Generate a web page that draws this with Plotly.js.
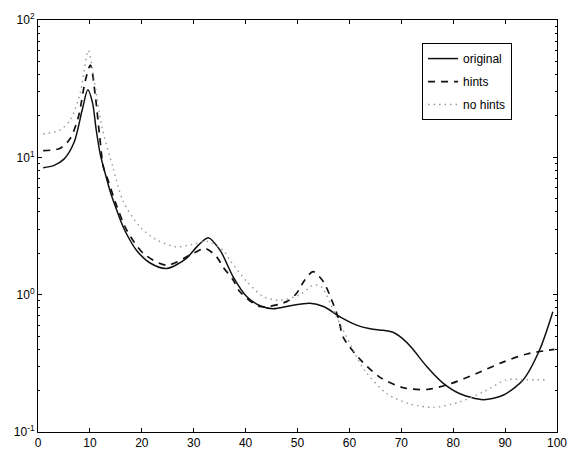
<!DOCTYPE html>
<html>
<head>
<meta charset="utf-8">
<script src="https://cdn.plot.ly/plotly-3.0.1.min.js"></script>
<style>html,body{margin:0;padding:0;background:#fff;}#chart{width:569px;height:452px;}</style>
</head>
<body>
<div id="chart"></div>
<script>
// Series: original
const origX = [1, 3, 5, 7, 8.5, 9.6, 10.5, 11.2, 12, 13, 14, 15, 16, 17, 19, 21.6, 24.8, 28.6, 30.6, 32.8, 35.1, 37.6, 40.2, 42.8, 45.3, 48.6, 52.4, 55, 58.2, 61.4, 64, 66.5, 68.5, 70.2, 72, 74.9, 78.1, 81.3, 85.8, 89.7, 93.5, 96.7, 99.2];
const origY = [8.4, 8.7, 9.7, 13, 22, 31, 25, 16, 10.5, 7.5, 5.5, 4.3, 3.4, 2.8, 2.1, 1.7, 1.55, 1.84, 2.23, 2.6, 2.1, 1.35, 0.97, 0.83, 0.79, 0.83, 0.865, 0.82, 0.69, 0.6, 0.565, 0.55, 0.53, 0.48, 0.41, 0.30, 0.226, 0.19, 0.172, 0.186, 0.24, 0.40, 0.75];

// Series: hints
const hintsX = [1, 4.2, 6.2, 7.8, 9.1, 10.1, 11, 11.9, 12.6, 13.5, 15, 17.1, 20.3, 24.8, 29.9, 32.2, 34.4, 35.7, 37.6, 38.9, 42.8, 47.9, 49.8, 51.4, 53, 55, 56.6, 57.9, 58.8, 62, 65.9, 70.4, 74.9, 79.4, 84.5, 89.7, 94.2, 99.5];
const hintsY = [11.2, 11.6, 13.7, 19.8, 36, 47, 29, 14, 8.5, 6.8, 4.6, 2.95, 2.0, 1.64, 2.0, 2.17, 1.89, 1.58, 1.28, 1.05, 0.82, 0.89, 1.02, 1.28, 1.47, 1.24, 0.91, 0.67, 0.49, 0.34, 0.25, 0.21, 0.204, 0.224, 0.267, 0.324, 0.37, 0.40];

// Series: no hints
const noHintsX = [1, 4.2, 6.2, 8.1, 9.7, 10.7, 12.3, 14.5, 16.4, 19.7, 22.9, 26.7, 29.9, 32.5, 35.7, 37, 40.2, 43.4, 46.6, 50.5, 53, 54.5, 57.5, 62, 63.3, 67.2, 71.7, 76.2, 81.3, 85.8, 90.3, 94.2, 98];
const noHintsY = [14.8, 15.8, 18.7, 29, 60, 39, 16.7, 8.3, 4.8, 3.1, 2.5, 2.23, 2.33, 2.45, 2.1, 1.78, 1.25, 0.97, 0.91, 1.0, 1.17, 1.15, 0.69, 0.32, 0.27, 0.19, 0.16, 0.151, 0.166, 0.196, 0.24, 0.24, 0.24];

const seriesNames = ['original', 'hints', 'no hints'];

// Tick labels
const xTicks = [0, 10, 20, 30, 40, 50, 60, 70, 80, 90, 100];
const yTickVals = [0.1, 1, 10, 100];
const yTickText = ['10<sup>-1</sup>', '10<sup>0</sup>', '10<sup>1</sup>', '10<sup>2</sup>'];

const traces = [
  {x: origX, y: origY, name: seriesNames[0], legendgroup: 'a', mode: 'lines', type: 'scatter',
   line: {color: '#111', width: 1.5, dash: 'solid', shape: 'spline', smoothing: 0.8}},
  {x: hintsX, y: hintsY, name: seriesNames[1], legendgroup: 'b', mode: 'lines', type: 'scatter',
   line: {color: '#111', width: 1.7, dash: '7px,6px', shape: 'spline', smoothing: 0.8}},
  {x: noHintsX, y: noHintsY, name: seriesNames[2], legendgroup: 'c', mode: 'lines', type: 'scatter',
   line: {color: '#999', width: 1.4, dash: '1.5px,4px', shape: 'spline', smoothing: 0.8}}
];

const axisFont = {family: 'Liberation Sans, Arial, sans-serif', size: 12, color: '#000'};

const layout = {
  width: 569, height: 452,
  margin: {l: 38, r: 12, t: 20, b: 20},
  paper_bgcolor: '#fff', plot_bgcolor: '#fff',
  showlegend: true,
  legend: {
    x: 0.74, y: 0.944, xanchor: 'left', yanchor: 'top',
    bordercolor: '#000', borderwidth: 1, bgcolor: '#fff',
    font: {family: 'Liberation Sans, Arial, sans-serif', size: 12, color: '#000'},
    traceorder: 'grouped', tracegroupgap: 4, itemwidth: 30
  },
  xaxis: {
    range: [0, 100], tickvals: xTicks, ticktext: xTicks.map(String),
    ticks: 'inside', ticklen: 4, tickcolor: '#000',
    showline: true, linecolor: '#000', linewidth: 1, mirror: 'ticks',
    showgrid: false, zeroline: false, tickfont: axisFont
  },
  yaxis: {
    type: 'log', range: [-1, 2], tickvals: yTickVals, ticktext: yTickText,
    ticks: 'inside', ticklen: 4, tickcolor: '#000',
    showline: true, linecolor: '#000', linewidth: 1, mirror: 'ticks',
    showgrid: false, zeroline: false, tickfont: axisFont,
    minor: {dtick: 'D1', ticks: 'inside', ticklen: 2, tickcolor: '#000', showgrid: false}
  }
};

Plotly.newPlot('chart', traces, layout, {staticPlot: true, displayModeBar: false});
</script>
</body>
</html>
